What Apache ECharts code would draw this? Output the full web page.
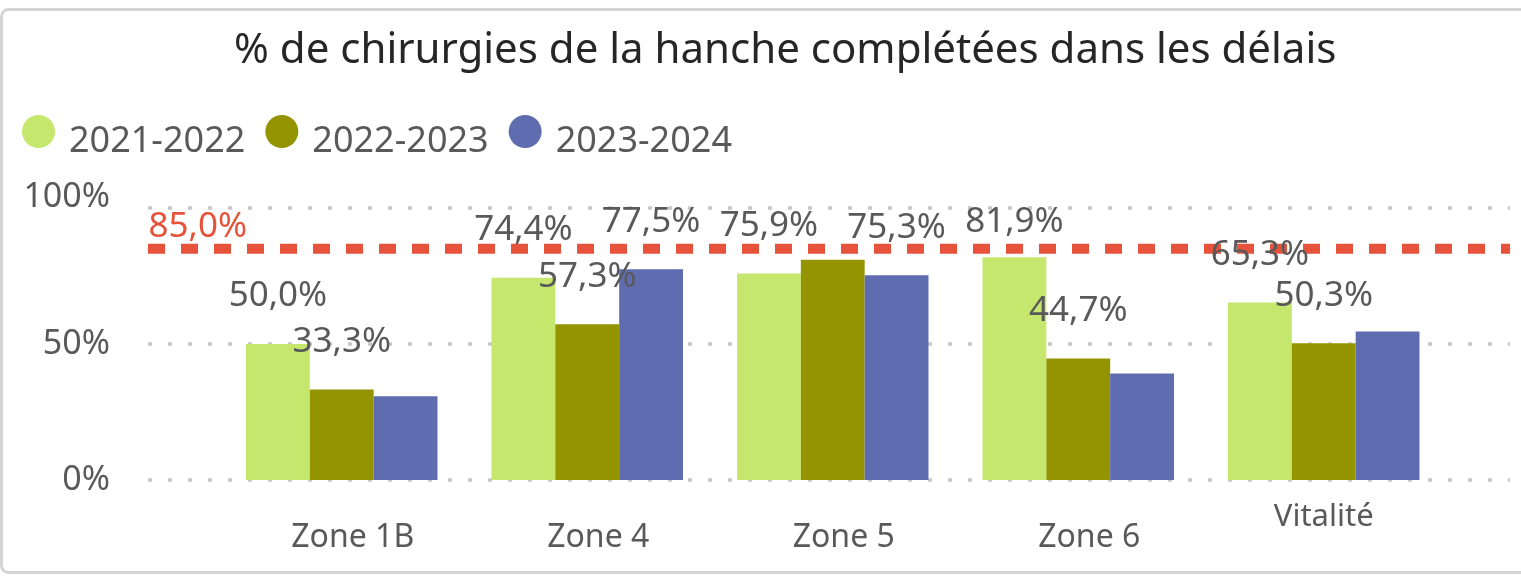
<!DOCTYPE html>
<html>
<head>
  <meta charset="utf-8">
  <title>Chirurgies de la hanche</title>
  <script src="https://cdn.jsdelivr.net/npm/echarts@6/dist/echarts.min.js"></script>
  <style>
    html, body { margin: 0; padding: 0; background: #fff; }
    #main { width: 1521px; height: 579px; }
  </style>
</head>
<body>
  <div id="main"></div>
  <script type="text/javascript">
    // données
    var zones = ['Zone 1B', 'Zone 4', 'Zone 5', 'Zone 6', 'Vitalité'];
    var seriesNames = ['2021-2022', '2022-2023', '2023-2024'];
    var v2122 = [50.0, 74.4, 75.9, 81.9, 65.3];
    var v2223 = [33.3, 57.3, 81.0, 44.7, 50.3];
    var v2324 = [30.8, 77.5, 75.3, 39.2, 54.6];
    // étiquettes visibles dans le graphique d'origine
    var shown2122 = [true, true, true, true, true];
    var shown2223 = [true, true, false, true, true];
    var shown2324 = [false, true, true, false, false];
    var cible = 85.0;
    var yTicks = [0, 50, 100];

    var colors = ['#c5e76e', '#939400', '#5f6db0'];
    var red = '#e6533a';
    var fontFam = '"Noto Sans", "Open Sans", sans-serif';

    function fmt(v) {
      return v.toFixed(1).replace('.', ',') + '%';
    }

    function buildData(vals, shown) {
      return vals.map(function (v, i) {
        // les étiquettes hautes sont repoussées sous le haut du graphique
        var dist = 30 - Math.max(0, (v - 77.5) * 2.7);
        return {
          value: v,
          label: { show: shown[i], distance: dist }
        };
      });
    }

    var myChart = echarts.init(document.getElementById('main'));

    var barLabel = {
      show: true,
      position: 'top',
      color: '#595959',
      fontSize: 35,
      fontFamily: fontFam,
      formatter: function (p) { return fmt(p.value); }
    };

    var option = {
      animation: false,
      title: {
        text: '% de chirurgies de la hanche complétées dans les délais',
        left: 229,
        top: 25,
        textStyle: {
          color: '#262626',
          fontSize: 42,
          fontWeight: 'normal',
          fontFamily: fontFam
        }
      },
      legend: {
        data: seriesNames,
        left: 22,
        top: 115,
        icon: 'circle',
        itemWidth: 33,
        itemHeight: 33,
        itemGap: 20,
        padding: 0,
        formatter: function (name) { return '{t|' + name + '}'; },
        textStyle: {
          color: '#595959',
          fontSize: 36,
          fontFamily: fontFam,
          padding: [0, 0, 0, 9],
          rich: {
            t: { color: '#595959', fontSize: 36, fontFamily: fontFam, padding: [20, 0, 0, 0] }
          }
        }
      },
      graphic: [{
        type: 'rect',
        shape: { x: 1.5, y: 9.5, width: 1530, height: 563, r: 7 },
        style: { fill: 'none', stroke: '#d4d4d4', lineWidth: 3 },
        silent: true
      }],
      grid: [
        { left: 148, right: 11, top: 208, bottom: 99 },
        { left: 219, right: 74.5, top: 208, bottom: 99 }
      ],
      xAxis: [
        { type: 'value', gridIndex: 0, min: 0, max: 1, show: false },
        {
          type: 'category',
          gridIndex: 1,
          data: zones.map(function (z) {
            return z === 'Vitalité'
              ? { value: z, textStyle: { fontSize: 31, lineHeight: 32, padding: 0 } }
              : z;
          }),
          axisLine: { show: false },
          axisTick: { show: false },
          axisLabel: {
            color: '#595959',
            fontSize: 32,
            lineHeight: 74,
            margin: 21,
            padding: [0, 0, 0, 22],
            fontFamily: fontFam
          }
        }
      ],
      yAxis: [
        {
          type: 'value',
          gridIndex: 0,
          min: yTicks[0],
          max: yTicks[yTicks.length - 1],
          interval: 50,
          axisLine: { show: false },
          axisTick: { show: false },
          axisLabel: {
            margin: 38,
            color: '#595959',
            fontSize: 34,
            fontFamily: fontFam,
            formatter: function (v) {
              return v === 100 ? '{up|' + v + '%}' : v + '%';
            },
            rich: {
              up: { fontSize: 34, color: '#595959', fontFamily: fontFam, padding: [0, 0, 22, 0] }
            }
          },
          splitLine: {
            lineStyle: { color: '#c8c8c8', width: 3.5, type: [4, 16] }
          }
        },
        {
          type: 'value',
          gridIndex: 1,
          min: 0,
          max: 100,
          interval: 50,
          show: false,
          splitLine: { show: false }
        }
      ],
      series: [
        {
          name: seriesNames[0],
          type: 'bar',
          xAxisIndex: 1,
          yAxisIndex: 1,
          barGap: '0%',
          barCategoryGap: '22%',
          itemStyle: { color: colors[0] },
          label: barLabel,
          data: buildData(v2122, shown2122)
        },
        {
          name: seriesNames[1],
          type: 'bar',
          xAxisIndex: 1,
          yAxisIndex: 1,
          barGap: '0%',
          barCategoryGap: '22%',
          itemStyle: { color: colors[1] },
          label: barLabel,
          data: buildData(v2223, shown2223)
        },
        {
          name: seriesNames[2],
          type: 'bar',
          xAxisIndex: 1,
          yAxisIndex: 1,
          barGap: '0%',
          barCategoryGap: '22%',
          itemStyle: { color: colors[2] },
          label: barLabel,
          data: buildData(v2324, shown2324)
        },
        {
          name: 'Cible',
          type: 'line',
          xAxisIndex: 0,
          yAxisIndex: 0,
          symbol: 'circle',
          symbolSize: 1,
          showSymbol: true,
          clip: false,
          z: 1,
          itemStyle: { color: red },
          lineStyle: { color: red, width: 10, type: [17, 16] },
          label: {
            show: true,
            position: 'right',
            distance: 0,
            offset: [0, -22],
            color: red,
            fontSize: 35,
            fontFamily: fontFam,
            formatter: function (p) {
              return p.dataIndex === 0 ? fmt(p.value[1]) : '';
            }
          },
          data: [[0, cible], [1, cible]]
        }
      ]
    };

    myChart.setOption(option);
  </script>
</body>
</html>
